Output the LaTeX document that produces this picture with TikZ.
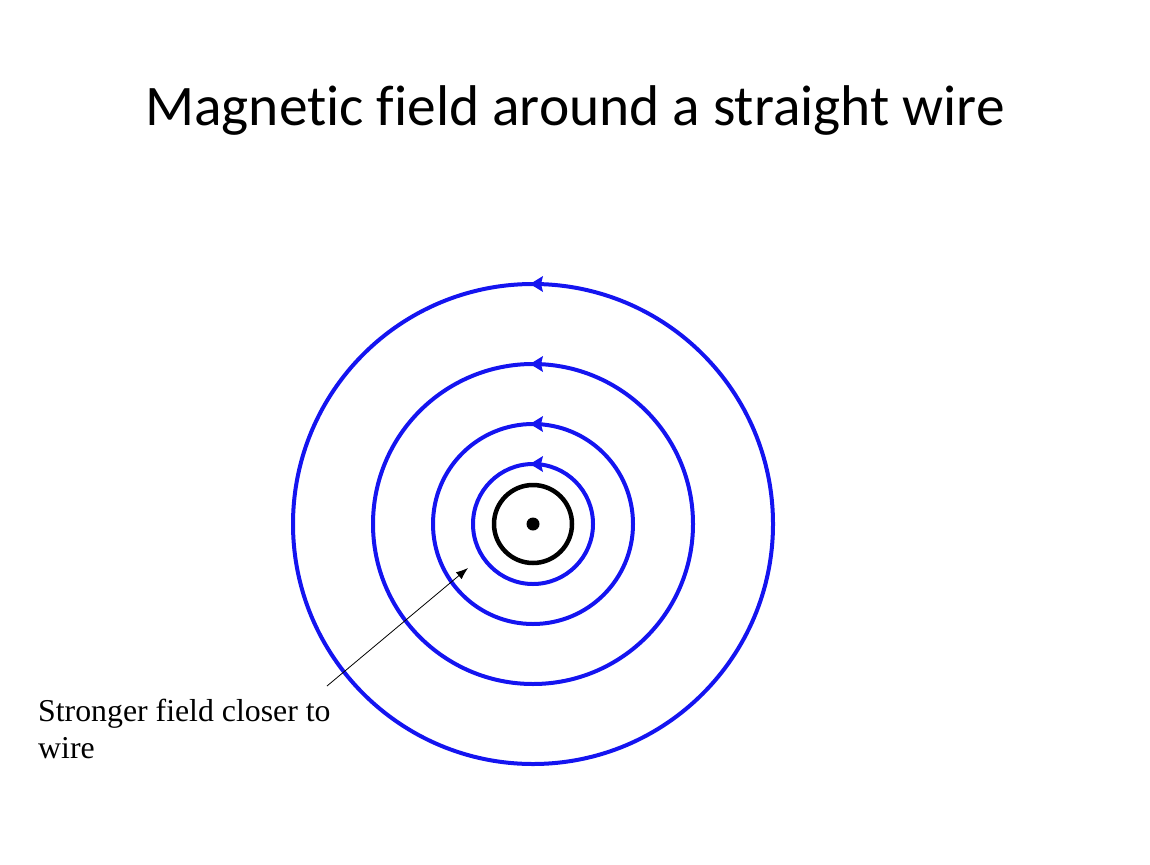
\documentclass[tikz,border=0pt]{standalone}
\usepackage{fontspec}
\usetikzlibrary{arrows.meta}
\setmainfont[Ligatures=NoCommon]{Carlito}
\newfontfamily\serifF{Liberation Serif}
\begin{document}
\begin{tikzpicture}[x=1pt,y=-1pt,
  fl/.style={draw={rgb,255:red,20;green,20;blue,240},line width=4pt},
  tri/.style={fill={rgb,255:red,20;green,20;blue,240}}]
\useasboundingbox (0,0) rectangle (1150,864);
\coordinate (c) at (533,524);
\foreach \r in {240,160,100,60}{
  \draw[fl] (c) circle (\r);
  \fill[tri] (530,524-\r) -- (543,524-\r-8) -- (541,524-\r) -- (543,524-\r+8) -- cycle;
}
\draw[line width=4.5pt] (c) circle (39);
\fill (c) circle (6.5);
\node[font=\fontsize{57.4}{68}\selectfont] (title) at (575,111) {Magnetic field around a straight wire};
\node[font=\serifF\fontsize{31.8}{37}\selectfont,align=left,anchor=north west,inner sep=0] (lbl) at (38,699) {Stronger field closer to\\wire};
\coordinate (tip) at (468,568);
\draw[-{Latex[length=12pt,width=9pt]},line width=0.8pt] (327,686) -- (tip);
\end{tikzpicture}
\end{document}
